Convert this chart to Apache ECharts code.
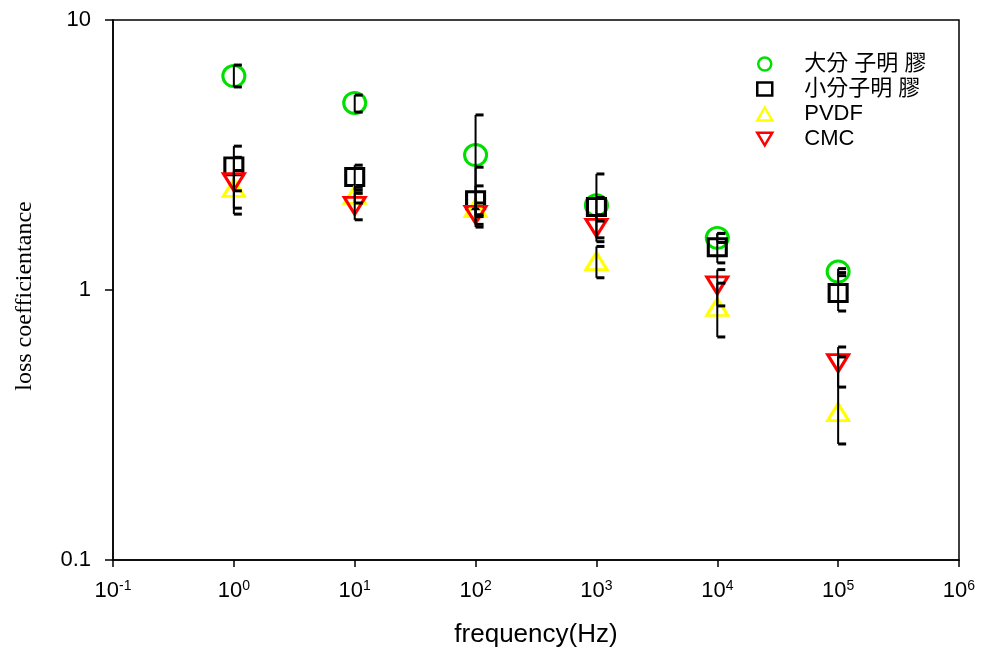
<!DOCTYPE html>
<html>
<head>
<meta charset="utf-8">
<script src="https://cdn.jsdelivr.net/npm/echarts@6/dist/echarts.min.js"></script>
<style>
  html, body { margin: 0; padding: 0; background: #fff; }
  #main { width: 981px; height: 657px; }
</style>
</head>
<body>
<div id="main"></div>
<script>
// frequencies (Hz)
const freq = [1, 10, 100, 1000, 10000, 100000]

// loss coefficient per material
const bigGelatin = [6.2, 4.93, 3.16, 2.06, 1.56, 1.17]
const smallGelatin = [2.87, 2.62, 2.15, 2.03, 1.44, 0.975]
const pvdf = [2.39, 2.25, 2.01, 1.28, 0.865, 0.353]
const cmc = [2.51, 2.05, 1.9, 1.7, 1.04, 0.536]

// error bar ends (low / high)
const bigLow = [5.65, 4.56, 1.87, 1.8, 1.5, 1.13]
const bigHigh = [6.81, 5.27, 4.45, 2.69, 1.62, 1.2]
const smallLow = [2.33, 2.34, 1.71, 1.56, 1.26, 0.836]
const smallHigh = [3.41, 2.9, 2.85, 2.2, 1.62, 1.16]
const pvdfLow = [2.01, 2.1, 1.9, 1.11, 0.67, 0.269]
const pvdfHigh = [2.77, 2.4, 2.1, 1.45, 1.06, 0.565]
const cmcLow = [1.91, 1.82, 1.75, 1.51, 0.873, 0.437]
const cmcHigh = [3.1, 2.28, 2.43, 1.9, 1.19, 0.615]

const names = ["大分 子明 膠", "小分子明 膠", "PVDF", "CMC"]

// downward triangle
const downTri = "path://M0,0 L20,0 L10,17 Z"

const pts = (ys) => freq.map((f, i) => [f, ys[i]])
const bars = (lo, hi) => freq.map((f, i) => [f, lo[i], hi[i]])

function errorBar(params, api) {
  const x = api.value(0)
  const top = api.coord([x, api.value(2)])
  const bot = api.coord([x, api.value(1)])
  const cap = 8
  return {
    type: "group",
    children: [
      {
        type: "line",
        shape: { x1: top[0], y1: top[1], x2: bot[0], y2: bot[1] },
        style: { stroke: "#000", lineWidth: 2 }
      },
      {
        type: "line",
        shape: { x1: top[0], y1: top[1], x2: top[0] + cap, y2: top[1] },
        style: { stroke: "#000", lineWidth: 3 }
      },
      {
        type: "line",
        shape: { x1: bot[0], y1: bot[1], x2: bot[0] + cap, y2: bot[1] },
        style: { stroke: "#000", lineWidth: 3 }
      }
    ]
  }
}

const chart = echarts.init(document.getElementById("main"))

const tickFont = { fontFamily: "Liberation Sans", color: "#000" }

const option = {
  animation: false,
  backgroundColor: "#fff",
  grid: {
    left: 113,
    top: 20,
    right: 22,
    bottom: 97,
    show: true,
    borderColor: "#000",
    borderWidth: 1.5
  },
  legend: {
    orient: "vertical",
    left: 756,
    top: 53,
    padding: 0,
    itemWidth: 15,
    itemHeight: 13,
    itemGap: 3,
    data: names,
    itemStyle: { borderWidth: 2.5 },
    textStyle: {
      fontFamily: "Liberation Sans, Noto Sans CJK TC",
      fontSize: 22,
      lineHeight: 22,
      color: "#000",
      padding: [0, 0, 0, 27]
    }
  },
  xAxis: {
    type: "log",
    logBase: 10,
    min: 0.1,
    max: 1000000,
    interval: 1,
    name: "frequency(Hz)",
    nameLocation: "middle",
    nameGap: 62,
    nameTextStyle: { fontFamily: "Liberation Sans", fontSize: 26, color: "#000" },
    axisLine: { lineStyle: { color: "#000", width: 1.5 } },
    axisTick: { inside: false, length: 7, lineStyle: { color: "#000", width: 1.5 } },
    splitLine: { show: false },
    axisLabel: {
      margin: 19,
      formatter: (v) => {
        const e = Math.round(Math.log10(v))
        return "{b|10}{s|" + e + "}"
      },
      rich: {
        b: { ...tickFont, fontSize: 22, lineHeight: 24 },
        s: { ...tickFont, fontSize: 14, verticalAlign: "top", lineHeight: 24 }
      }
    }
  },
  yAxis: {
    type: "log",
    logBase: 10,
    min: 0.1,
    max: 10,
    name: "loss coefficientance",
    nameLocation: "middle",
    nameGap: 76,
    nameRotate: 90,
    nameTextStyle: { fontFamily: "Liberation Serif", fontSize: 24, color: "#000", padding: [0, 12, 0, 0] },
    axisLine: { lineStyle: { color: "#000", width: 1.5 } },
    axisTick: { length: 8, lineStyle: { color: "#000", width: 1.5 } },
    splitLine: { show: false },
    minorTick: { show: false },
    axisLabel: {
      margin: 22,
      ...tickFont,
      fontSize: 22,
      formatter: (v) => String(v)
    }
  },
  series: [
    {
      name: names[0],
      type: "scatter",
      symbol: "circle",
      symbolSize: [22, 21],
      itemStyle: { color: "rgba(0,0,0,0)", borderColor: "#00e000", borderWidth: 3, opacity: 1 },
      z: 2,
      data: pts(bigGelatin)
    },
    {
      name: names[1],
      type: "scatter",
      symbol: "rect",
      symbolSize: [18, 17],
      itemStyle: { color: "rgba(0,0,0,0)", borderColor: "#000", borderWidth: 3, opacity: 1 },
      z: 2,
      data: pts(smallGelatin)
    },
    {
      name: names[2],
      type: "scatter",
      symbol: "triangle",
      symbolSize: [21, 17],
      itemStyle: { color: "rgba(0,0,0,0)", borderColor: "#ffff00", borderWidth: 3, opacity: 1 },
      z: 2,
      data: pts(pvdf)
    },
    {
      name: names[3],
      type: "scatter",
      symbol: downTri,
      symbolSize: [21, 17],
      itemStyle: { color: "rgba(0,0,0,0)", borderColor: "#ff0000", borderWidth: 3, opacity: 1 },
      z: 3,
      data: pts(cmc)
    },
    { type: "custom", renderItem: errorBar, z: 4, data: bars(bigLow, bigHigh) },
    { type: "custom", renderItem: errorBar, z: 4, data: bars(smallLow, smallHigh) },
    { type: "custom", renderItem: errorBar, z: 4, data: bars(pvdfLow, pvdfHigh) },
    { type: "custom", renderItem: errorBar, z: 4, data: bars(cmcLow, cmcHigh) }
  ]
}

chart.setOption(option)
</script>
</body>
</html>
